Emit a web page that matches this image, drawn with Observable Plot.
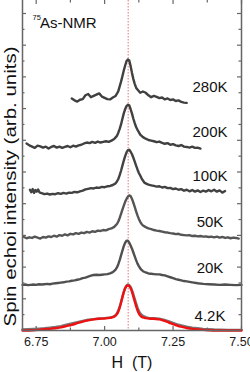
<!DOCTYPE html>
<html><head><meta charset="utf-8">
<script src="https://cdn.jsdelivr.net/npm/d3@7"></script>
<script src="https://cdn.jsdelivr.net/npm/@observablehq/plot@0.6"></script>
<style>body{margin:0;background:#fff;} svg{display:block;}</style>
</head><body><div id="chart"></div>
<script>
// ---- data ----
const series = ["280K", "200K", "100K", "50K", "20K", "4.2K"];
const offsets = [7.2, 5.8, 4.4, 2.95, 1.5, 0];          // vertical stacking offsets (arb. units)
const peakField = 7.086;                                 // H of the central line (T)
const xTickValues = [6.75, 7.00, 7.25, 7.50];
const xTickLabels = ["6.75", "7.00", "7.25", "7.50"];
const xMinorTicks = [6.875, 7.125, 7.375];
const yMajorTicks = [1, 2, 3, 4, 5, 6, 7, 8, 9, 10];
const yMinorTicks = [0.5, 1.5, 2.5, 3.5, 4.5, 5.5, 6.5, 7.5, 8.5, 9.5];

const s280 = [[6.88,7.32],[6.89,7.26],[6.90,7.22],[6.91,7.28],[6.92,7.30],[6.93,7.42],[6.94,7.46],[6.95,7.36],[6.96,7.40],[6.97,7.44],[6.98,7.48],[6.99,7.38],[7.00,7.34],[7.01,7.30],[7.02,7.29],[7.03,7.35],[7.04,7.40],[7.045,7.47],[7.05,7.55],[7.055,7.70],[7.06,7.85],[7.065,8.02],[7.07,8.20],[7.075,8.36],[7.08,8.50],[7.085,8.55],[7.09,8.52],[7.095,8.34],[7.10,8.12],[7.105,7.93],[7.11,7.78],[7.115,7.66],[7.12,7.60],[7.13,7.50],[7.14,7.54],[7.15,7.50],[7.16,7.42],[7.17,7.36],[7.18,7.40],[7.19,7.37],[7.20,7.33],[7.21,7.35],[7.22,7.29],[7.23,7.32],[7.24,7.27],[7.25,7.29],[7.26,7.24],[7.27,7.26],[7.28,7.21],[7.29,7.19],[7.30,7.18]];

const s200 = [[6.715,5.90],[6.725,5.84],[6.735,5.80],[6.745,5.76],[6.755,5.83],[6.765,5.81],[6.775,5.77],[6.785,5.80],[6.795,5.74],[6.805,5.79],[6.815,5.82],[6.825,5.77],[6.835,5.80],[6.845,5.76],[6.855,5.79],[6.865,5.82],[6.875,5.78],[6.885,5.83],[6.895,5.80],[6.905,5.84],[6.915,5.86],[6.925,5.90],[6.935,5.93],[6.945,5.91],[6.955,5.95],[6.965,5.92],[6.975,5.96],[6.985,5.93],[6.995,5.95],[7.005,5.97],[7.015,5.95],[7.025,5.99],[7.035,6.04],[7.045,6.14],[7.05,6.24],[7.055,6.36],[7.06,6.50],[7.065,6.68],[7.07,6.85],[7.075,6.98],[7.08,7.08],[7.085,7.12],[7.09,7.10],[7.095,6.98],[7.10,6.84],[7.105,6.68],[7.11,6.54],[7.115,6.42],[7.12,6.33],[7.125,6.26],[7.13,6.18],[7.14,6.10],[7.15,6.05],[7.16,6.01],[7.17,5.99],[7.18,5.97],[7.19,5.94],[7.20,5.96],[7.21,5.92],[7.22,5.89],[7.23,5.91],[7.24,5.86],[7.25,5.88],[7.26,5.84],[7.27,5.82],[7.28,5.85],[7.29,5.80],[7.30,5.79],[7.31,5.77],[7.32,5.80],[7.33,5.76],[7.34,5.77],[7.35,5.74]];

const s100 = [[6.727,4.44],[6.732,4.36],[6.737,4.46],[6.742,4.34],[6.747,4.43],[6.752,4.38],[6.757,4.45],[6.762,4.36],[6.770,4.33],[6.780,4.30],[6.790,4.32],[6.800,4.29],[6.810,4.31],[6.820,4.30],[6.830,4.33],[6.840,4.31],[6.850,4.34],[6.860,4.32],[6.870,4.35],[6.880,4.34],[6.890,4.37],[6.900,4.36],[6.910,4.39],[6.920,4.41],[6.930,4.45],[6.940,4.47],[6.950,4.49],[6.960,4.48],[6.970,4.51],[6.980,4.50],[6.990,4.53],[7.000,4.52],[7.010,4.55],[7.020,4.56],[7.030,4.59],[7.040,4.64],[7.045,4.70],[7.050,4.78],[7.055,4.90],[7.060,5.04],[7.065,5.20],[7.070,5.36],[7.075,5.50],[7.080,5.62],[7.085,5.69],[7.090,5.70],[7.095,5.64],[7.100,5.56],[7.105,5.45],[7.110,5.33],[7.115,5.20],[7.120,5.08],[7.125,4.97],[7.130,4.89],[7.135,4.80],[7.140,4.73],[7.145,4.67],[7.150,4.64],[7.160,4.60],[7.170,4.58],[7.180,4.56],[7.190,4.54],[7.200,4.55],[7.210,4.51],[7.220,4.53],[7.230,4.49],[7.240,4.50],[7.250,4.46],[7.260,4.48],[7.270,4.44],[7.280,4.46],[7.290,4.41],[7.300,4.44],[7.310,4.39],[7.320,4.43],[7.330,4.38],[7.340,4.42],[7.350,4.37],[7.360,4.41],[7.370,4.38],[7.380,4.43],[7.390,4.39],[7.400,4.44],[7.410,4.38],[7.420,4.42],[7.430,4.35],[7.440,4.40]];

const s50 = [[6.705,2.95],[6.715,2.91],[6.725,2.94],[6.735,2.92],[6.745,2.96],[6.755,2.93],[6.765,2.90],[6.775,2.95],[6.785,2.93],[6.795,2.97],[6.805,2.95],[6.815,2.99],[6.825,2.96],[6.835,3.01],[6.845,2.99],[6.855,3.03],[6.865,3.00],[6.875,3.05],[6.885,3.03],[6.895,3.07],[6.905,3.05],[6.915,3.09],[6.925,3.07],[6.935,3.11],[6.945,3.09],[6.955,3.13],[6.965,3.11],[6.975,3.15],[6.985,3.14],[6.995,3.17],[7.005,3.16],[7.015,3.20],[7.025,3.22],[7.035,3.27],[7.045,3.36],[7.05,3.44],[7.055,3.55],[7.06,3.68],[7.065,3.81],[7.07,3.94],[7.075,4.06],[7.08,4.15],[7.085,4.22],[7.09,4.26],[7.095,4.24],[7.10,4.15],[7.105,4.03],[7.11,3.90],[7.115,3.76],[7.12,3.63],[7.125,3.52],[7.13,3.43],[7.135,3.36],[7.14,3.31],[7.15,3.26],[7.16,3.22],[7.17,3.20],[7.18,3.17],[7.19,3.15],[7.20,3.14],[7.21,3.12],[7.22,3.10],[7.23,3.09],[7.24,3.07],[7.25,3.06],[7.26,3.04],[7.27,3.05],[7.28,3.02],[7.29,3.01],[7.30,3.00],[7.31,3.01],[7.32,2.98],[7.33,2.99],[7.34,2.97],[7.35,2.98],[7.36,2.96],[7.37,2.97],[7.38,2.95],[7.39,2.96],[7.40,2.94],[7.41,2.96],[7.42,2.93],[7.43,2.95],[7.44,2.92],[7.45,2.94],[7.46,2.91],[7.47,2.93],[7.48,2.92],[7.49,2.90]];

const s20 = [[6.700,1.44],[6.710,1.45],[6.720,1.43],[6.730,1.44],[6.740,1.45],[6.750,1.44],[6.760,1.46],[6.770,1.45],[6.780,1.46],[6.790,1.47],[6.800,1.46],[6.810,1.48],[6.820,1.49],[6.830,1.50],[6.840,1.51],[6.850,1.52],[6.860,1.54],[6.870,1.55],[6.880,1.57],[6.890,1.58],[6.900,1.60],[6.910,1.62],[6.920,1.65],[6.930,1.67],[6.940,1.70],[6.950,1.73],[6.960,1.75],[6.970,1.76],[6.980,1.75],[6.990,1.76],[7.000,1.77],[7.010,1.78],[7.020,1.80],[7.030,1.84],[7.040,1.92],[7.045,1.99],[7.050,2.09],[7.055,2.22],[7.060,2.37],[7.065,2.52],[7.070,2.66],[7.075,2.77],[7.080,2.83],[7.085,2.83],[7.090,2.77],[7.095,2.68],[7.100,2.58],[7.105,2.46],[7.110,2.34],[7.115,2.22],[7.120,2.11],[7.125,2.03],[7.130,1.96],[7.135,1.91],[7.140,1.87],[7.150,1.83],[7.160,1.80],[7.170,1.79],[7.180,1.78],[7.190,1.77],[7.200,1.77],[7.210,1.75],[7.220,1.74],[7.230,1.71],[7.240,1.68],[7.250,1.65],[7.260,1.62],[7.270,1.60],[7.280,1.58],[7.290,1.56],[7.300,1.55],[7.320,1.52],[7.340,1.49],[7.360,1.47],[7.380,1.46],[7.400,1.45],[7.420,1.44],[7.440,1.45],[7.460,1.44],[7.480,1.43],[7.500,1.44]];

const s4data = [[6.700,0.03],[6.720,0.04],[6.740,0.05],[6.760,0.06],[6.780,0.07],[6.800,0.09],[6.820,0.11],[6.840,0.14],[6.860,0.18],[6.880,0.22],[6.900,0.26],[6.920,0.30],[6.940,0.34],[6.960,0.36],[6.980,0.38],[7.000,0.39],[7.020,0.41],[7.030,0.43],[7.040,0.48],[7.045,0.54],[7.050,0.63],[7.055,0.75],[7.060,0.90],[7.065,1.06],[7.070,1.22],[7.075,1.34],[7.080,1.42],[7.085,1.45],[7.090,1.43],[7.095,1.37],[7.100,1.27],[7.105,1.14],[7.110,1.00],[7.115,0.86],[7.120,0.73],[7.125,0.62],[7.130,0.54],[7.140,0.46],[7.150,0.42],[7.160,0.40],[7.170,0.39],[7.180,0.39],[7.190,0.38],[7.200,0.37],[7.210,0.35],[7.220,0.33],[7.230,0.30],[7.240,0.27],[7.250,0.24],[7.260,0.21],[7.270,0.18],[7.280,0.16],[7.300,0.12],[7.320,0.09],[7.340,0.07],[7.360,0.05],[7.380,0.04],[7.400,0.03],[7.450,0.02],[7.500,0.02]];

const s4fit = [[6.700,0.00],[6.720,0.00],[6.740,0.01],[6.760,0.02],[6.780,0.04],[6.800,0.05],[6.820,0.07],[6.840,0.10],[6.860,0.14],[6.880,0.18],[6.900,0.23],[6.920,0.28],[6.940,0.32],[6.960,0.35],[6.980,0.37],[7.000,0.38],[7.020,0.40],[7.030,0.42],[7.040,0.47],[7.045,0.52],[7.050,0.60],[7.055,0.72],[7.060,0.88],[7.065,1.05],[7.070,1.21],[7.075,1.33],[7.080,1.40],[7.085,1.42],[7.090,1.40],[7.095,1.33],[7.100,1.22],[7.105,1.07],[7.110,0.92],[7.115,0.77],[7.120,0.64],[7.125,0.54],[7.130,0.47],[7.140,0.41],[7.150,0.39],[7.160,0.38],[7.170,0.37],[7.180,0.37],[7.190,0.36],[7.200,0.35],[7.210,0.33],[7.220,0.30],[7.230,0.27],[7.240,0.23],[7.250,0.20],[7.260,0.17],[7.270,0.14],[7.280,0.12],[7.300,0.08],[7.320,0.05],[7.340,0.03],[7.360,0.02],[7.380,0.01],[7.400,0.00],[7.450,0.00],[7.500,0.00]];

// ---- layout ----
const W = 250, H = 372, mL = 22, mR = 9, mT = 0, mB = 42;
const xDomain = [6.70, 7.50], yDomain = [0, 10.41];
const kx = (W - mL - mR) / (xDomain[1] - xDomain[0]);
const ky = (H - mT - mB) / (yDomain[1] - yDomain[0]);
const axisColor = "#666";
const majorLen = 4, minorLen = 2.5;

const dataSets = [s280, s200, s100, s50, s20, s4data];
const colors = ["#404040", "#404040", "#424242", "#555555", "#505050", "#777777"];
const rows = dataSets.flatMap((s, i) => s.map(([h, v]) => ({series: series[i], H: h, I: v})));
const fitRows = s4fit.map(([h, v]) => ({H: h, I: v}));
const labelRows = series.map((s, i) => ({label: s, off: offsets[i]}));
const labelField = 7.385;
const yTitle = "Spin echoi intensity (arb. units)";

const xt = (ticks, len, atTop) => Plot.ruleX(ticks, {
  x: d => d,
  y1: atTop ? yDomain[1] : yDomain[0],
  y2: atTop ? yDomain[1] - len / ky : yDomain[0] + len / ky,
  stroke: axisColor, strokeWidth: 1.2
});
const yt = (ticks, len, atRight) => Plot.ruleY(ticks, {
  y: d => d,
  x1: atRight ? xDomain[1] : xDomain[0],
  x2: atRight ? xDomain[1] - len / kx : xDomain[0] + len / kx,
  stroke: axisColor, strokeWidth: 1.2
});

const chart = Plot.plot({
  width: W, height: H,
  marginLeft: mL, marginRight: mR, marginTop: mT, marginBottom: mB,
  x: {domain: xDomain, axis: null},
  y: {domain: yDomain, axis: null},
  color: {domain: series, range: colors},
  style: {fontFamily: "'Liberation Sans', Arial, Helvetica, sans-serif", background: "white", color: "#1a1a1a"},
  marks: [
    Plot.ruleX([peakField], {stroke: "#f07070", strokeWidth: 1, strokeDasharray: "1.5,1.5"}),
    Plot.line(rows, {x: "H", y: "I", z: "series", stroke: "series", strokeWidth: 2.4, strokeLinejoin: "round"}),
    Plot.line(fitRows, {x: "H", y: "I", stroke: "#ee1111", strokeWidth: 2.4, curve: "monotone-x"}),
    Plot.ruleX([xDomain[0], xDomain[1]], {stroke: axisColor, strokeWidth: 1.5}),
    Plot.ruleY([yDomain[0]], {stroke: axisColor, strokeWidth: 1.5}),
    xt(xTickValues, majorLen, false), xt(xMinorTicks, minorLen, false),
    xt(xTickValues, majorLen, true), xt(xMinorTicks, minorLen, true),
    yt(yMajorTicks, majorLen, false), yt(yMinorTicks, minorLen, false),
    yt(yMajorTicks, majorLen, true), yt(yMinorTicks, minorLen, true),
    Plot.text(xTickValues, {x: d => d, text: (d, i) => xTickLabels[i], frameAnchor: "bottom", dy: 11, lineAnchor: "middle", fontSize: 12.5, fill: "#1a1a1a"}),
    Plot.text(labelRows, {x: () => labelField, y: "off", text: "label", dy: -10, lineAnchor: "bottom", fontSize: 15, fill: "#111"}),
    Plot.text(["75"], {frameAnchor: "top-left", dx: 10, dy: 19, textAnchor: "start", lineAnchor: "bottom", fontSize: 7.5, fill: "#111"}),
    Plot.text(["As-NMR"], {frameAnchor: "top-left", dx: 17.5, dy: 27.5, textAnchor: "start", lineAnchor: "bottom", fontSize: 15, fill: "#111"}),
    Plot.text(["H\u00a0\u00a0(T)"], {frameAnchor: "bottom", dy: 37, lineAnchor: "bottom", fontSize: 16, fill: "#111"}),
    Plot.text([yTitle], {frameAnchor: "bottom-left", dx: -12, dy: -4, rotate: -90, textAnchor: "start", lineAnchor: "middle", fontSize: 16, fill: "#111"})
  ]
});
document.getElementById("chart").appendChild(chart);
chart.querySelectorAll("text").forEach(t => {
  if (t.textContent === yTitle) {
    t.setAttribute("textLength", "280");
    t.setAttribute("lengthAdjust", "spacingAndGlyphs");
  }
});
</script>
</body></html>
